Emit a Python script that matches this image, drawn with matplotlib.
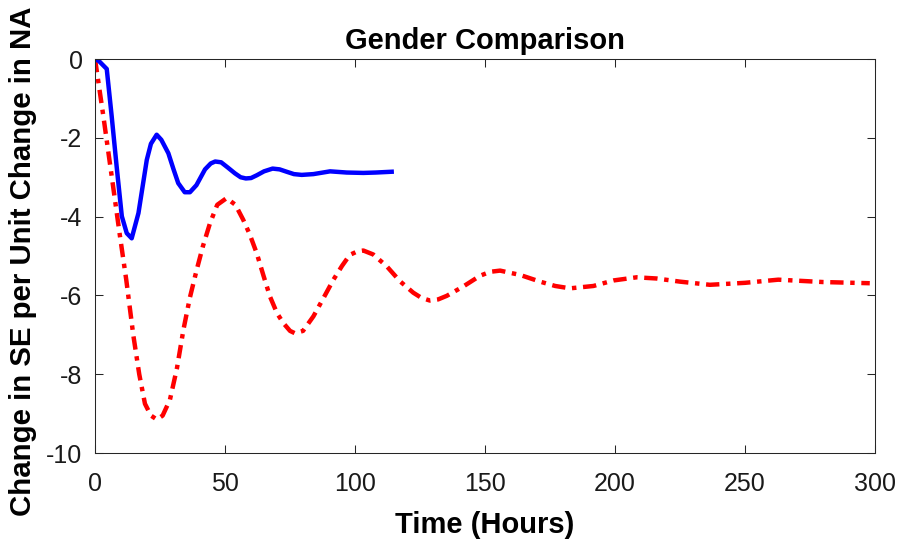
import numpy as np
import matplotlib
matplotlib.use("Agg")
from matplotlib import pyplot as plt

plt.rcParams['font.family'] = ['Liberation Sans', 'DejaVu Sans']
plt.rcParams['axes.unicode_minus'] = False

# response curves, hours vs change in SE
maleT = [0, 1.5, 4.5, 6.4, 8.3, 10.3, 12.2, 14.1, 16.7, 19.9, 21.5, 23.7, 25.5,
         28.2, 30.2, 32, 34.5, 36.5, 39, 42.3, 44.5, 46.2, 48.5, 51, 53.8, 56,
         58, 60, 62.2, 65, 68.3, 71, 73.7, 76.5, 79.5, 84, 90.4, 96.8, 103.2,
         108, 114.1]
maleY = [0, -0.05, -0.25, -1.45, -2.72, -3.99, -4.42, -4.55, -3.91, -2.56,
         -2.15, -1.92, -2.05, -2.39, -2.8, -3.15, -3.38, -3.38, -3.2, -2.8,
         -2.65, -2.6, -2.62, -2.75, -2.9, -3.0, -3.03, -3.02, -2.95, -2.85,
         -2.78, -2.8, -2.86, -2.92, -2.94, -2.92, -2.85, -2.88, -2.89, -2.88,
         -2.86]

femaleT = [0, 3.2, 6.4, 9.6, 12, 14.7, 17, 19.2, 21.5, 23.8, 26, 28.8, 31.5,
           34, 36.5, 39.1, 41.5, 44.2, 47, 50.6, 54, 57, 59.5, 62.2, 64.8,
           67.3, 70, 72.4, 75, 76.9, 80, 84, 88, 91.7, 95, 98, 101, 103.2,
           107, 112.2, 117.3, 122.4, 125.5, 128.8, 132, 135.3, 141.7, 148.1,
           152, 155.8, 163.5, 171.2, 177, 182.7, 191.7, 199.4, 208.3, 216,
           225, 236.5, 250, 262.8, 280, 298]
femaleY = [0, -1.45, -2.97, -4.5, -5.6, -7.0, -8.0, -8.75, -9.05, -9.15,
           -9.05, -8.65, -7.85, -6.87, -6.05, -5.35, -4.75, -4.17, -3.7,
           -3.53, -3.7, -4.08, -4.45, -4.93, -5.5, -6.03, -6.45, -6.7, -6.9,
           -6.96, -6.9, -6.53, -6.05, -5.6, -5.25, -4.97, -4.88, -4.86, -4.96,
           -5.26, -5.64, -5.93, -6.06, -6.13, -6.1, -6.01, -5.77, -5.5, -5.4,
           -5.37, -5.48, -5.65, -5.76, -5.82, -5.76, -5.62, -5.54, -5.57,
           -5.65, -5.73, -5.68, -5.6, -5.66, -5.69]

xTicks = [0, 50, 100, 150, 200, 250, 300]
yTicks = [-10, -8, -6, -4, -2, 0]

fig = plt.figure(figsize=(9, 5.42), dpi=100)
ax = fig.add_axes([0.1056, 0.1642, 0.8666, 0.7268])

ax.plot(femaleT, femaleY, color="red", linewidth=3.2,
        linestyle=(0, (3, 1.5, 1, 1.5)))
ax.plot(maleT, maleY, color="blue", linewidth=3.2, solid_joinstyle="round")

ax.set_xlim(0, 300)
ax.set_ylim(-10, 0)
ax.set_xticks(xTicks)
ax.set_yticks(yTicks)
ax.tick_params(direction="in", length=5.5, width=0.75, top=True, right=True,
               labelsize=18, colors="#262626")
ax.tick_params(axis="x", pad=13.5)
ax.tick_params(axis="y", pad=9)
ax.tick_params(labelcolor="#1a1a1a")
for s in ax.spines.values():
    s.set_linewidth(0.75)
    s.set_color("#262626")

ax.set_title("Gender Comparison", fontsize=21, fontweight="bold", pad=7)
ax.set_xlabel("Time (Hours)", fontsize=21, fontweight="bold", labelpad=11)
ax.set_ylabel("Change in SE per Unit Change in NA", fontsize=21.2,
              fontweight="bold")
ax.yaxis.set_label_coords(-0.074, 0.487)

plt.savefig("out.png", dpi=100)
